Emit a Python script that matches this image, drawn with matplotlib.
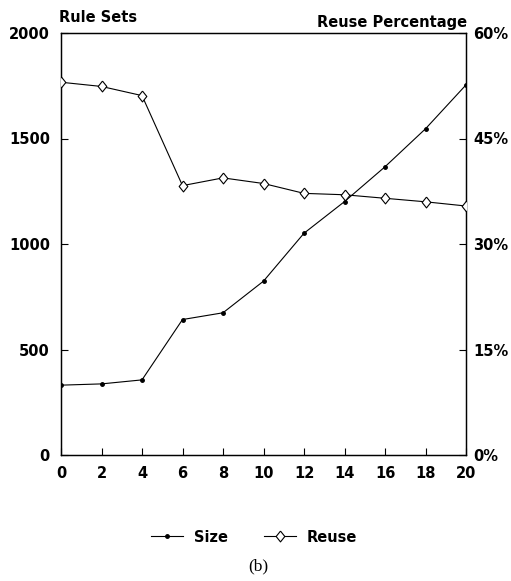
import matplotlib
matplotlib.use("Agg")
import matplotlib.pyplot as plt
from matplotlib.lines import Line2D

x_vals = [0, 2, 4, 6, 8, 10, 12, 14, 16, 18, 20]
size_vals = [331, 337, 356, 642, 674, 824, 1051, 1201, 1366, 1546, 1754]
reuse_pct = [53.0, 52.4, 51.1, 38.3, 39.4, 38.6, 37.2, 37.0, 36.5, 36.0, 35.4]
left_ticks = [0, 500, 1000, 1500, 2000]
right_ticks = [0, 15, 30, 45, 60]
right_labels = ["0%", "15%", "30%", "45%", "60%"]

bold = {"family": "DejaVu Sans", "weight": "bold", "size": 10.5}
diamond = [(0, 1), (0.8, 0), (0, -1), (-0.8, 0), (0, 1)]

fig = plt.figure(figsize=(5.11, 5.81), dpi=100)
ax = fig.add_axes([61/511, 1-455/581, (466-61)/511, (455-33)/581])
ax2 = ax.twinx()

ax.plot(x_vals, size_vals, color="black", lw=0.8, marker="o", ms=2.5, zorder=3)
ax2.plot(x_vals, reuse_pct, color="black", lw=0.8, marker=diamond, ms=7.8,
         mfc="white", mec="black", mew=0.8, zorder=3)

ax.set_xlim(0, 20)
ax.set_ylim(0, 2000)
ax2.set_ylim(0, 60)
ax.set_xticks(x_vals)
ax.set_xticklabels([str(v) for v in x_vals], fontdict=bold)
ax.set_yticks(left_ticks)
ax.set_yticklabels([str(v) for v in left_ticks], fontdict=bold)
ax2.set_yticks(right_ticks)
ax2.set_yticklabels(right_labels, fontdict=bold)

ax.tick_params(axis="x", direction="in", length=5, width=0.8, pad=8)
ax.tick_params(axis="y", direction="in", length=5, width=0.8, pad=8)
ax2.tick_params(axis="y", direction="in", length=5, width=0.8, pad=5)
for a in (ax, ax2):
    for s in a.spines.values():
        s.set_linewidth(0.9)

fig.text(59/511, 1-18/581, "Rule Sets", ha="left", va="center", **bold)
fig.text(467/511, 1-23/581, "Reuse Percentage", ha="right", va="center", **bold)

handles = [
    Line2D([], [], color="black", lw=0.8, marker="o", ms=2.5),
    Line2D([], [], color="black", lw=0.8, marker=diamond, ms=7.8, mfc="white", mec="black", mew=0.8),
]
fig.legend(handles, ["Size", "Reuse"], loc="center", bbox_to_anchor=(254/511, 1-537/581),
           ncol=2, frameon=False, prop={"family": "DejaVu Sans", "weight": "bold", "size": 10.5},
           handlelength=2.2, columnspacing=2.5, handletextpad=0.7)
fig.text(258/511, 1-566/581, "(b)", ha="center", va="center",
         family="Liberation Serif", size=12.5)

fig.savefig("out.png", dpi=100)
